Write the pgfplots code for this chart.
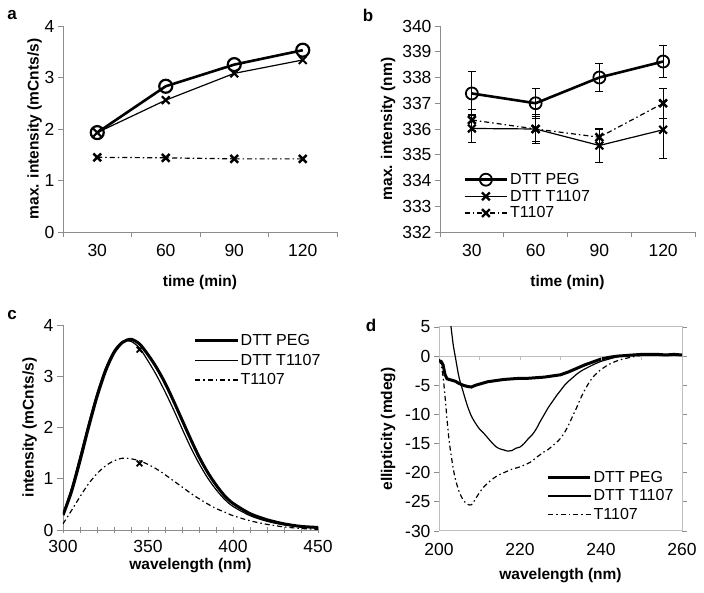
\documentclass[border=0pt]{standalone}
\usepackage{pgfplots}
\pgfplotsset{compat=1.18}
\usepackage{fontspec}
\setmainfont{Liberation Sans}
\definecolor{axgray}{gray}{0.55}
\definecolor{frgray}{gray}{0.75}
\pgfplotsset{
  panel/.style={
    scale only axis, anchor=south west,
    axis line style={axgray, line width=0.9pt, -},
    tick style={axgray, line width=0.9pt},
    tick align=outside, major tick length=5pt,
    tick label style={font=\fontsize{17.5}{19}\selectfont},
    xticklabel style={yshift=-4pt},
    xlabel style={font=\fontsize{15.5}{17}\selectfont\bfseries, yshift=-1pt},
    ylabel style={font=\fontsize{15.5}{17}\selectfont\bfseries},
    /pgf/number format/assume math mode=true,
    legend style={draw=none, fill=none, font=\fontsize{16}{18}\selectfont, row sep=0pt,
      /tikz/every even column/.append style={column sep=2pt}},
    legend cell align=left,
  },
  ll/.style={legend image code/.code={\draw[mark repeat=2,mark phase=2,##1] plot coordinates {(0pt,0pt)(21pt,0pt)(42pt,0pt)};}},
  thk/.style={black, line width=2.6pt, ll},
  thn/.style={black, line width=1.2pt, ll},
  dd/.style={black, line width=1.2pt, dash pattern=on 5pt off 3pt on 1.5pt off 3pt, ll},
}
\begin{document}
\begin{tikzpicture}
\useasboundingbox (0,0) rectangle (704pt,593pt);
% ---------------- panel a
\begin{axis}[panel, at={(63pt,361pt)}, width=274pt, height=206pt,
  axis x line*=bottom, axis y line*=left,
  xmin=-0.5, xmax=3.5, ymin=0, ymax=4, ytick={0,1,2,3,4},
  xtick={0,1,2,3}, xticklabels={30,60,90,120},
  extra x ticks={-0.5,0.5,1.5,2.5,3.5}, extra x tick labels={},
  major x tick style={draw=none},
  extra x tick style={major x tick style={draw=axgray}},
  xlabel={time (min)}, ylabel={max. intensity (mCnts/s)},
  ylabel style={yshift=-4pt}]
\addplot[thk, mark=o, mark size=6.5pt, mark options={solid, line width=2.2pt}] coordinates {(0,1.93)(1,2.83)(2,3.25)(3,3.53)};
\addplot[thn, mark=x, mark size=5.5pt, mark options={solid, line width=2pt}] coordinates {(0,1.93)(1,2.56)(2,3.08)(3,3.34)};
\addplot[dd, mark=x, mark size=5.5pt, mark options={solid, line width=2.4pt}] coordinates {(0,1.45)(1,1.44)(2,1.42)(3,1.42)};
\end{axis}
% ---------------- panel b
\begin{axis}[panel, at={(440pt,361pt)}, width=255pt, height=206pt,
  axis x line*=bottom, axis y line*=left,
  xmin=-0.5, xmax=3.5, ymin=332, ymax=340, ytick={332,333,...,340},
  xtick={0,1,2,3}, xticklabels={30,60,90,120},
  extra x ticks={-0.5,0.5,1.5,2.5,3.5}, extra x tick labels={},
  major x tick style={draw=none},
  extra x tick style={major x tick style={draw=axgray}},
  xlabel={time (min)}, ylabel={max. intensity (nm)},
  legend style={at={(0.08,0.305)}, anchor=north west}]
\addplot[thk, mark=o, mark size=6pt, mark options={solid, line width=1.8pt},
  error bars/.cd, y dir=both, y explicit, error mark options={rotate=90, mark size=4pt, line width=1pt}, error bar style={line width=1pt}]
  coordinates {(0,337.38) +- (0,0.85) (1,337.0) +- (0,0.58) (2,338.0) +- (0,0.55) (3,338.62) +- (0,0.62)};
\addlegendentry{DTT PEG}
\addplot[thn, mark=x, mark size=5.5pt, mark options={solid, line width=2.2pt},
  error bars/.cd, y dir=both, y explicit, error mark options={rotate=90, mark size=4pt, line width=1pt}, error bar style={line width=1pt}]
  coordinates {(0,336.02) +- (0,0.56) (1,336.0) +- (0,0.56) (2,335.36) +- (0,0.66) (3,335.97) +- (0,1.1)};
\addlegendentry{DTT T1107}
\addplot[dd, mark=x, mark size=5.5pt, mark options={solid, line width=2.4pt},
  error bars/.cd, y dir=both, y explicit, error mark options={rotate=90, mark size=4pt, line width=1pt}, error bar style={line width=1pt, solid}]
  coordinates {(0,336.35) +- (0,0.4) (1,336.0) +- (0,0.5) (2,335.68) +- (0,0.3) (3,337.0) +- (0,0.58)};
\addlegendentry{T1107}
\end{axis}
% ---------------- panel c
\begin{axis}[panel, at={(63pt,63pt)}, width=255pt, height=205pt,
  axis x line*=bottom, axis y line*=left,
  xmin=300, xmax=450, ymin=0, ymax=4, ytick={0,1,2,3,4},
  xtick={300,350,400,450}, minor xtick={310,320,...,440},
  tick align=center, minor tick length=6pt, major tick length=6pt,
  ytick align=outside,
  xlabel={wavelength (nm)}, ylabel={intensity (mCnts/s)},
  xlabel style={yshift=3pt},
  legend style={at={(0.5,0.975)}, anchor=north west, row sep=3pt}]
\addplot[thk, smooth, line width=3pt] coordinates {(300,0.29)(305,0.75)(310,1.35)(315,2.0)(320,2.6)(325,3.1)(330,3.46)(335,3.66)(340,3.72)(345,3.63)(350,3.42)(355,3.17)(360,2.87)(365,2.52)(370,2.15)(375,1.78)(380,1.43)(385,1.13)(390,0.88)(395,0.67)(400,0.52)(410,0.32)(420,0.2)(430,0.12)(440,0.07)(450,0.05)};
\addlegendentry{DTT PEG}
\addplot[thn, smooth] coordinates {(300,0.32)(305,0.82)(310,1.44)(315,2.08)(320,2.67)(325,3.16)(330,3.5)(335,3.68)(340,3.68)(345,3.55)(350,3.3)(355,3.02)(360,2.7)(365,2.35)(370,1.98)(375,1.62)(380,1.3)(385,1.02)(390,0.79)(395,0.6)(400,0.46)(410,0.28)(420,0.17)(430,0.1)(440,0.06)(450,0.04)};
\addlegendentry{DTT T1107}
\addplot[dd, smooth] coordinates {(300,0.12)(305,0.38)(310,0.65)(315,0.9)(320,1.1)(325,1.25)(330,1.35)(335,1.4)(340,1.39)(345,1.35)(350,1.28)(355,1.19)(360,1.08)(365,0.96)(370,0.84)(375,0.72)(380,0.61)(385,0.51)(390,0.42)(395,0.35)(400,0.28)(410,0.18)(420,0.11)(430,0.06)(440,0.03)(450,0.01)};
\addlegendentry{T1107}
\addplot[only marks, mark=x, mark size=4pt, mark options={line width=1.8pt}, forget plot] coordinates {(345,3.52)(345,1.3)};
\end{axis}
% ---------------- panel d
\begin{axis}[panel, at={(439pt,62pt)}, width=243pt, height=204pt,
  axis line style={frgray, line width=1pt},
  xmin=200, xmax=260, ymin=-30, ymax=5, ytick={-30,-25,...,5},
  xtick={200,220,240,260}, major x tick style={draw=none},
  xlabel={wavelength (nm)}, ylabel={ellipticity (mdeg)},
  xlabel style={yshift=-4pt}, ylabel style={yshift=3pt},
  legend style={at={(0.43,0.315)}, anchor=north west, row sep=2pt}]
\addplot[frgray, line width=1pt, forget plot] coordinates {(200,0)(260,0)};
\addplot[thk, line width=3pt] coordinates {(200,-0.8)(200.5,-0.9)(201,-1.5)(201.5,-3.2)(202,-3.9)(203,-4.1)(204,-4.3)(205,-4.7)(206,-5.0)(207,-5.2)(208,-5.3)(209,-5.0)(210,-4.8)(212,-4.4)(214,-4.2)(216,-4.0)(218,-3.9)(220,-3.8)(222,-3.8)(224,-3.7)(226,-3.6)(228,-3.4)(230,-3.2)(232,-2.7)(234,-2.1)(236,-1.5)(238,-1.0)(240,-0.5)(242,-0.2)(244,0.0)(246,0.1)(248,0.2)(250,0.3)(252,0.3)(254,0.3)(256,0.2)(258,0.3)(260,0.2)};
\addlegendentry{DTT PEG}
\addplot[thn, smooth] coordinates {(202.8,6)(203.5,2)(204,0)(204.5,-2)(205,-3.8)(206,-6.2)(207,-8.5)(208,-10.3)(209,-11.5)(210,-12.5)(211,-13.2)(212,-14)(213,-14.8)(214,-15.5)(215,-15.9)(216,-16.1)(217,-16.3)(218,-16.2)(219,-15.8)(220,-15.6)(221,-15)(222,-14.2)(223,-13.5)(224,-12.5)(225,-11.2)(226,-10)(227,-8.8)(228,-7.8)(229,-6.8)(230,-5.9)(231,-5)(232,-4.3)(233,-3.7)(234,-3.1)(235,-2.6)(236,-2.2)(238,-1.5)(240,-0.9)(242,-0.5)(244,-0.1)(246,0.1)(250,0.2)(255,0.2)(260,0.2)};
\addlegendentry{DTT T1107}
\addplot[dd, smooth] coordinates {(200,-0.5)(200.5,-1.5)(201,-3.5)(201.5,-7)(202,-11)(202.5,-14.5)(203,-17)(203.5,-19.2)(204,-21)(205,-23.3)(206,-24.7)(207,-25.4)(208,-25.5)(209,-24.5)(210,-23.4)(211,-22.5)(212,-21.8)(213,-21.2)(214,-20.7)(215,-20.3)(216,-20)(217,-19.7)(218,-19.4)(219,-19.2)(220,-19)(221,-18.7)(222,-18.4)(223,-18)(224,-17.4)(225,-16.9)(226,-16.4)(227,-16)(228,-15.4)(229,-14.8)(230,-14.1)(231,-13.1)(232,-11.8)(233,-10.3)(234,-8.8)(235,-7.2)(236,-5.8)(237,-4.6)(238,-3.6)(239,-2.9)(240,-2.3)(242,-1.4)(244,-0.8)(246,-0.4)(248,-0.1)(250,0.1)(255,0.2)(260,0.2)};
\addlegendentry{T1107}
\end{axis}
% zero-line ticks for panel d
\begin{axis}[scale only axis, anchor=south west, at={(439pt,62pt)}, width=243pt, height=204pt,
  xmin=200, xmax=260, ymin=-30, ymax=5, axis x line=middle, axis y line=none,
  axis line style={draw=none}, xtick={210,220,230,240,250}, xticklabels={},
  tick style={frgray, line width=1pt}, major tick length=4pt, tick align=outside]
\end{axis}
% panel letters
\node[font=\fontsize{17}{19}\selectfont\bfseries] at (12pt,578pt) {a};
\node[font=\fontsize{17}{19}\selectfont\bfseries] at (368pt,578pt) {b};
\node[font=\fontsize{17}{19}\selectfont\bfseries] at (12pt,278pt) {c};
\node[font=\fontsize{17}{19}\selectfont\bfseries] at (371pt,268pt) {d};
\end{tikzpicture}
\end{document}
